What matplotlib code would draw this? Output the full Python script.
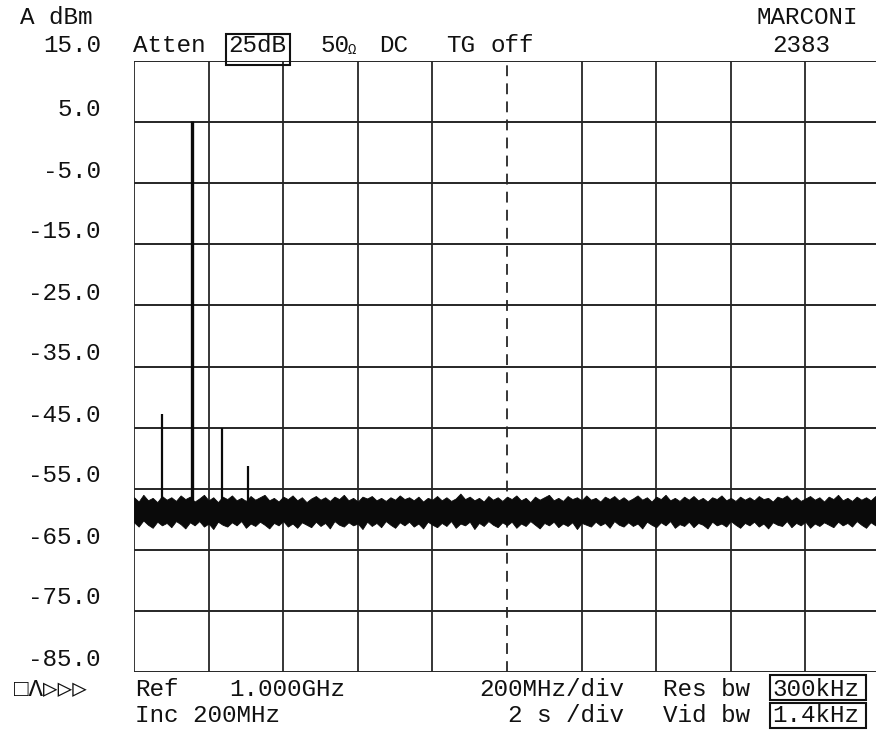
import matplotlib
matplotlib.use("Agg")
import matplotlib.pyplot as plt
from matplotlib.patches import Rectangle

# ---- data ----
y_ticks = [15.0, 5.0, -5.0, -15.0, -25.0, -35.0, -45.0, -55.0, -65.0, -75.0, -85.0]
x_grid_mhz = [0, 200, 400, 600, 800, 1000, 1200, 1400, 1600, 1800, 2000]
center_mhz = 1000

peak_freq_mhz = [76, 155, 236, 306]
peak_level_dbm = [-42.8, 5.2, -45.1, -51.3]
peak_width = [1.6, 2.4, 1.6, 1.6]

noise_step_mhz = 12.5
noise_hi = [-56.4, -57.1, -56.0, -56.9, -56.5, -57.2, -56.2, -56.8, -56.4, -57.0,
            -56.1, -56.7, -56.3, -57.1, -56.6, -56.0, -56.9, -56.4, -57.2, -56.3,
            -56.7, -56.1, -56.9, -56.5, -57.0, -56.2, -56.8, -56.4, -56.0, -56.9,
            -56.5, -57.1, -56.3, -56.7, -56.1, -56.9, -56.4, -57.2, -56.6, -56.2,
            -56.8, -56.4, -57.0, -56.3, -56.7, -56.0, -56.9, -56.5, -57.1, -56.3,
            -56.6, -56.2, -56.9, -56.5, -57.0, -56.4, -56.8, -56.1, -56.7, -56.4,
            -56.9, -56.3, -57.1, -56.5, -56.8, -56.2, -56.9, -56.4, -57.0, -56.6,
            -55.8, -56.7, -56.3, -56.9, -56.5, -57.1, -56.2, -56.8, -56.4, -57.0,
            -56.3, -56.7, -56.1, -56.9, -56.5, -57.2, -56.3, -56.8, -56.4, -56.0,
            -56.9, -56.5, -57.0, -56.2, -56.7, -56.4, -56.9, -56.1, -56.8, -56.5,
            -57.1, -56.3, -56.7, -56.2, -56.9, -56.4, -57.0, -56.6, -56.1, -56.8,
            -56.4, -57.1, -56.3, -56.7, -56.0, -56.9, -56.5, -57.0, -56.3, -56.8,
            -56.2, -56.9, -56.5, -57.1, -56.4, -56.7, -56.1, -56.9, -56.5, -57.0,
            -56.3, -56.8, -56.4, -56.9, -56.2, -56.7, -56.5, -57.1, -56.3, -56.6,
            -56.1, -56.9, -56.4, -57.0, -56.6, -56.2, -56.8, -56.4, -57.1, -56.3,
            -56.7, -56.0, -56.9, -56.5, -57.0, -56.3, -56.8, -56.4, -56.9, -56.2, -56.6]
noise_lo = [-60.5, -61.2, -60.2, -60.9, -61.4, -60.4, -61.0, -60.6, -61.3, -60.3,
            -60.8, -61.5, -60.5, -61.0, -60.3, -61.2, -60.7, -61.6, -60.4, -60.9,
            -61.2, -60.5, -61.0, -60.3, -61.4, -60.7, -61.1, -60.4, -60.9, -61.5,
            -60.6, -61.0, -60.3, -61.2, -60.7, -61.4, -60.5, -60.9, -61.3, -60.4,
            -61.1, -60.6, -61.5, -60.3, -60.9, -61.2, -60.5, -61.0, -60.7, -61.6,
            -60.4, -61.1, -60.6, -61.3, -60.3, -60.9, -61.4, -60.5, -61.0, -60.4,
            -61.2, -60.7, -61.5, -60.4, -60.9, -61.3, -60.6, -61.1, -60.3, -61.4,
            -60.7, -61.0, -60.4, -61.6, -60.6, -61.1, -60.3, -60.9, -61.3, -60.5,
            -61.0, -60.4, -61.4, -60.7, -61.1, -60.3, -60.9, -61.5, -60.6, -61.0,
            -60.4, -61.3, -60.7, -61.1, -60.5, -61.6, -60.6, -60.9, -61.2, -60.4,
            -61.0, -60.6, -61.4, -60.3, -60.9, -61.2, -60.5, -61.1, -60.7, -61.5,
            -60.4, -60.9, -61.3, -60.5, -61.0, -60.3, -61.4, -60.8, -61.1, -60.4,
            -61.3, -60.6, -60.9, -61.5, -60.4, -61.0, -60.7, -61.2, -60.3, -60.9,
            -61.4, -60.6, -61.0, -60.4, -61.2, -60.7, -61.5, -60.5, -60.9, -61.1,
            -60.3, -61.3, -60.6, -61.0, -60.4, -61.4, -60.7, -61.1, -60.5, -60.9,
            -61.3, -60.4, -61.0, -60.6, -61.2, -60.3, -60.9, -61.4, -60.5, -61.0, -60.6]
noise_freq_mhz = [i * noise_step_mhz for i in range(len(noise_hi))]

FW, FH = 876, 740
fig = plt.figure(figsize=(FW / 100, FH / 100), dpi=100)
fig.patch.set_facecolor("white")

def fx(px):
    return px / FW

def fy(py):
    return 1 - py / FH

ax = fig.add_axes([fx(134), fy(672), fx(880) - fx(134), fy(61) - fy(672)])
ax.set_xlim(0, 2000)
ax.set_ylim(-85, 15)
ax.set_facecolor("white")
for s in ax.spines.values():
    s.set_visible(False)
ax.set_xticks([])
ax.set_yticks([])

gcol = "#262626"
for v in y_ticks:
    ax.axhline(v, color=gcol, lw=1.4, zorder=1)
for g in x_grid_mhz:
    if g == center_mhz:
        ax.axvline(g, color=gcol, lw=1.3, linestyle=(0, (6, 4)), zorder=1)
    else:
        ax.axvline(g, color=gcol, lw=1.3, zorder=1)

# noise floor
ax.fill_between(noise_freq_mhz, noise_lo, noise_hi, color="#0a0a0a", lw=0.6,
                edgecolor="#0a0a0a", zorder=2)

# peaks
for f, lvl, w in zip(peak_freq_mhz, peak_level_dbm, peak_width):
    ax.vlines(f, -59.0, lvl, color="#0a0a0a", lw=w, zorder=3)

font = ["Liberation Mono", "DejaVu Sans Mono", "DejaVu Sans"]
FS = 17.5

def txt(px, py, s, ha="left"):
    fig.text(fx(px), fy(py), s, ha=ha, va="center", fontsize=FS, family=font, color="#111111")

def box(x0, y0, x1, y1):
    fig.add_artist(Rectangle((fx(x0), fy(y1)), fx(x1) - fx(x0), fy(y0) - fy(y1),
                             transform=fig.transFigure, fill=False, lw=1.5, ec="#111111"))

# y labels
label_y_px = [45, 110, 171, 232, 293, 354, 415, 476, 537, 598, 659]
for v, py in zip(y_ticks, label_y_px):
    txt(101, py, f"{v:.1f}", ha="right")

txt(20, 17, "A dBm")
txt(858, 17, "MARCONI", ha="right")
txt(772, 45, "2383")
txt(133, 46, "Atten")
txt(228, 46, "25dB")
box(226, 34, 290, 65)
txt(320, 46, "50")
fig.text(fx(348), fy(50), "Ω", ha="left", va="center", fontsize=10, family=font, color="#111111")
txt(379, 46, "DC")
txt(446, 46, "TG")
txt(491, 46, "off")

txt(14, 689, "□Λ▷▷▷")
txt(135, 689, "Ref")
txt(229, 689, "1.000GHz")
txt(135, 716, "Inc 200MHz")
txt(479, 689, "200MHz/div")
txt(508, 716, "2 s /div")
txt(663, 689, "Res bw")
txt(663, 716, "Vid bw")
txt(772, 689, "300kHz")
box(770, 675, 866, 700)
txt(772, 716, "1.4kHz")
box(770, 703, 866, 728)

fig.savefig("out.png", dpi=100, facecolor="white")
